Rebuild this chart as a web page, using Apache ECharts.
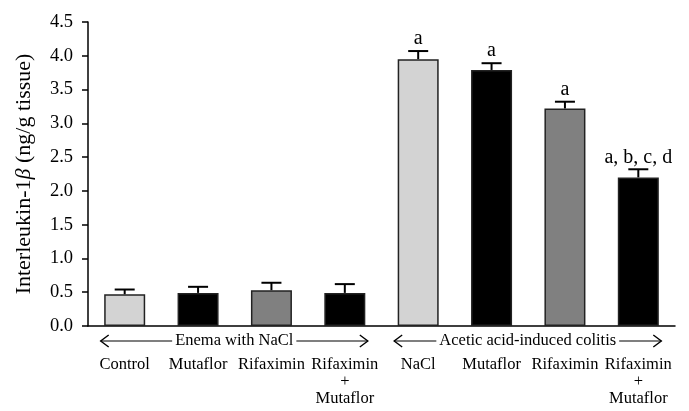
<!DOCTYPE html>
<html><head><meta charset="utf-8">
<script src="https://cdn.jsdelivr.net/npm/echarts@6/dist/echarts.min.js"></script>
<style>html,body{margin:0;padding:0;background:#fff}#c{width:689px;height:411px}</style>
</head><body><div id="c"></div>
<script>
const categories = ['Control','Mutaflor','Rifaximin','Rifaximin\n+\nMutaflor','NaCl','Mutaflor','Rifaximin','Rifaximin\n+\nMutaflor'];
const means = [0.47, 0.49, 0.53, 0.49, 3.95, 3.79, 3.22, 2.20];
const sems = [0.07, 0.09, 0.11, 0.13, 0.12, 0.10, 0.10, 0.12];
const signif = ['', '', '', '', 'a', 'a', 'a', 'a, b, c, d'];
const barColors = ['#d3d3d3', '#000000', '#808080', '#000000', '#d3d3d3', '#000000', '#808080', '#000000'];
const groupNames = ['Enema with NaCl', 'Acetic acid-induced colitis'];
const groupFrom = [0, 4];
const groupTo = [3, 7];
const yMin = 0, yMax = 4.5, yStep = 0.5;

const FONT = '"Liberation Serif", "DejaVu Serif", serif';
const chart = echarts.init(document.getElementById('c'));

const option = {
  animation: false,
  backgroundColor: '#fff',
  grid: { left: 88, right: 14, top: 22, bottom: 85, containLabel: false },
  xAxis: {
    type: 'category',
    data: categories,
    axisLine: { show: true, lineStyle: { color: '#000', width: 1.5 } },
    axisTick: { show: false },
    axisLabel: { interval: 0, color: '#000', fontFamily: FONT, fontSize: 16.5, lineHeight: 17, margin: 30 }
  },
  yAxis: {
    type: 'value',
    min: yMin, max: yMax, interval: yStep,
    name: 'Interleukin-1{i|β} (ng/g tissue)',
    nameLocation: 'middle',
    nameGap: 53,
    nameTextStyle: { color: '#000', fontFamily: FONT, fontSize: 22,
      rich: { i: { fontStyle: 'italic', fontFamily: FONT, fontSize: 22, color: '#000' } } },
    axisLine: { show: true, lineStyle: { color: '#000', width: 1.5 } },
    axisTick: { show: true, length: 6, lineStyle: { color: '#000', width: 1.5 } },
    splitLine: { show: false },
    axisLabel: { color: '#000', fontFamily: FONT, fontSize: 18.5, margin: 15,
      formatter: v => v.toFixed(1) }
  },
  series: [
    {
      type: 'bar',
      barWidth: 41,
      data: means.map((m, i) => ({ value: m, itemStyle: { color: barColors[i] } })),
      itemStyle: { borderColor: '#222', borderWidth: 1.5 },
      z: 2
    },
    {
      type: 'custom',
      z: 3,
      data: means.map((m, i) => [i, m, sems[i]]),
      renderItem: function (params, api) {
        const i = api.value(0), m = api.value(1), s = api.value(2);
        const base = api.coord([i, m]);
        const top = api.coord([i, m + s]);
        const hw = 10;
        return {
          type: 'group',
          children: [
            { type: 'line', shape: { x1: base[0], y1: base[1], x2: top[0], y2: top[1] }, style: { stroke: '#000', lineWidth: 2 } },
            { type: 'line', shape: { x1: top[0] - hw, y1: top[1], x2: top[0] + hw, y2: top[1] }, style: { stroke: '#000', lineWidth: 2 } },
            { type: 'text', x: top[0], y: top[1] - 2,
              style: { text: signif[params.dataIndex], font: '20px ' + FONT, fill: '#000', align: 'center', verticalAlign: 'bottom' } }
          ]
        };
      }
    }
  ]
};
chart.setOption(option);

// group brackets beneath the axis, positioned via the axis scale
const graphics = [];
groupNames.forEach((name, g) => {
  const p0 = chart.convertToPixel({ gridIndex: 0 }, [groupFrom[g], 0]);
  const p1 = chart.convertToPixel({ gridIndex: 0 }, [groupTo[g], 0]);
  const y = p0[1] + 15;
  const xa = p0[0] - 24, xb = p1[0] + 23;
  graphics.push({ type: 'line', shape: { x1: xa, y1: y, x2: xb, y2: y }, style: { stroke: '#000', lineWidth: 1.2 }, z: 10 });
  graphics.push({ type: 'polyline', shape: { points: [[xa + 8, y - 6], [xa, y], [xa + 8, y + 6]] }, style: { stroke: '#000', lineWidth: 1.4, fill: null }, z: 10 });
  graphics.push({ type: 'polyline', shape: { points: [[xb - 8, y - 6], [xb, y], [xb - 8, y + 6]] }, style: { stroke: '#000', lineWidth: 1.4, fill: null }, z: 10 });
  graphics.push({ type: 'text', x: (xa + xb) / 2, y: y, z: 11,
    style: { text: name, font: '16.5px ' + FONT, fill: '#000', align: 'center', verticalAlign: 'middle', backgroundColor: '#fff', padding: [0, 3] } });
});
chart.setOption({ graphic: graphics });
</script>
</body></html>
